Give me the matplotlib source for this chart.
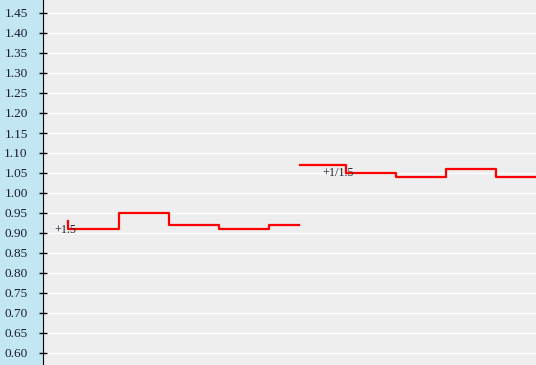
import matplotlib
matplotlib.use("Agg")
import matplotlib.pyplot as plt
import numpy as np

# series 1 (step line), time in px-like units from left axis
t1 = [25, 25, 76, 126, 176, 226, 256]
v1 = [0.93, 0.91, 0.95, 0.92, 0.91, 0.92, 0.92]
# series 2
t2 = [257, 303, 353, 403, 453, 493]
v2 = [1.07, 1.05, 1.04, 1.06, 1.04, 1.04]

labels = ["+1.5", "+1/1.5"]
label_pos = [(11, 0.907), (279, 1.05)]

yticks = np.round(np.arange(0.60, 1.451, 0.05), 2)

fig = plt.figure(figsize=(5.36, 3.65), dpi=100)
fig.patch.set_facecolor("#c2e6f2")
ax = fig.add_axes([43 / 536, 0, 1 - 43 / 536, 1])
ax.set_facecolor("#eeeeee")

ax.step(t1, v1, where="post", color="red", lw=1.6)
ax.step(t2, v2, where="post", color="red", lw=1.6)

for txt, (x, y) in zip(labels, label_pos):
    ax.text(x, y, txt, fontsize=8.7, family="Liberation Serif", va="center", ha="left", color="#222233")

ax.set_xlim(0, 493)
ax.set_ylim(0.57, 1.4825)
ax.set_yticks(yticks)
ax.set_yticklabels([f"{v:.2f}" for v in yticks], family="Liberation Serif", fontsize=9.5, color="#1a1a3a")
ax.tick_params(axis="y", direction="inout", length=6, width=1, pad=8)
ax.set_xticks([])
ax.grid(axis="y", color="white", lw=1)
ax.set_axisbelow(True)
for s in ["top", "right", "bottom"]:
    ax.spines[s].set_visible(False)
ax.spines["left"].set_color("black")

fig.savefig("out.png", dpi=100, facecolor=fig.get_facecolor())
